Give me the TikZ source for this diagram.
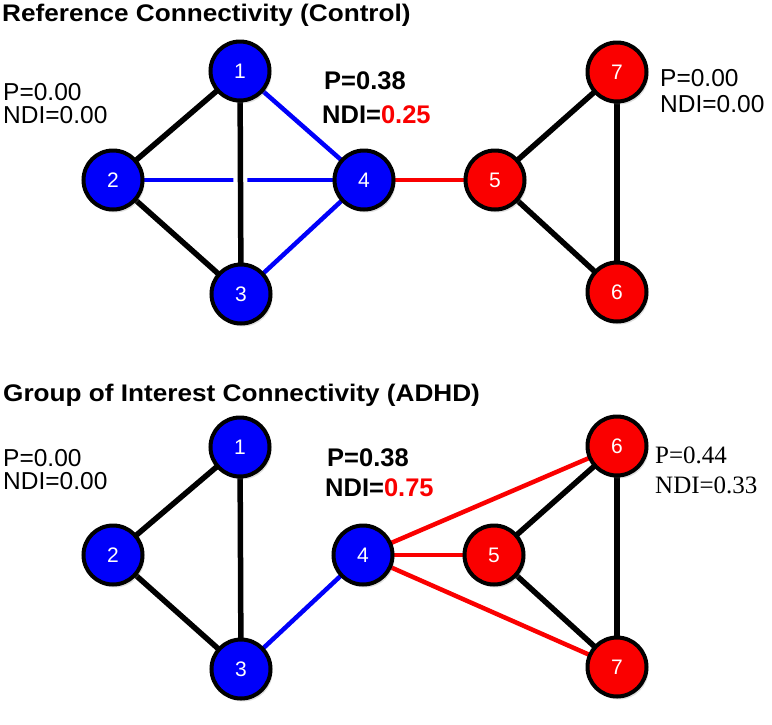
\documentclass[tikz,border=0pt]{standalone}
\usepackage{fontspec}
\setmainfont{Liberation Sans}
\newfontfamily\titlefont[FakeStretch=1.09]{Liberation Sans}
\newfontfamily\seriffont{Liberation Serif}
\usetikzlibrary{shadows}
\definecolor{nblue}{RGB}{0,0,250}
\definecolor{nred}{RGB}{250,0,0}
\begin{document}
\begin{tikzpicture}[x=1pt,y=-1pt,
  vtx/.style={circle,draw=black,line width=4pt,minimum size=59pt,inner sep=0pt,
     text=white,font=\fontsize{21}{24}\selectfont,
     drop shadow={opacity=0.25,shadow xshift=2pt,shadow yshift=-3pt}},
  bv/.style={vtx,fill=nblue},
  rv/.style={vtx,fill=nred},
  ke/.style={draw=black,line width=5.5pt},
  be/.style={draw=nblue,line width=4.5pt},
  re/.style={draw=nred,line width=4.5pt},
  ttl/.style={anchor=base west,inner sep=0pt,font=\titlefont\bfseries\fontsize{24}{26}\selectfont},
  lbl/.style={anchor=base west,inner sep=0pt,font=\fontsize{24.5}{26}\selectfont},
  blbl/.style={anchor=base west,inner sep=0pt,font=\bfseries\fontsize{25.5}{27}\selectfont},
  slbl/.style={anchor=base west,inner sep=0pt,font=\seriffont\fontsize{25}{27}\selectfont}
]
\useasboundingbox (0,0) rectangle (772,724);
% ---------- top graph ----------
\node[ttl] (t1) at (2,21) {Reference Connectivity (Control)};
\coordinate (c1) at (240,71);
\coordinate (c2) at (113,180);
\coordinate (c3) at (241,294);
\coordinate (c4) at (364,180);
\coordinate (c5) at (495,180);
\coordinate (c7) at (617,72);
\coordinate (c6) at (617,292);
\path[be] (c2) -- (c4);
\path[be] (c1) -- (c4);
\path[be] (c3) -- (c4);
\draw[ke,preaction={draw=white,line width=14pt}] (c1) -- (c3);
\path[ke] (c1) -- (c2);
\path[ke] (c2) -- (c3);
\path[re] (c4) -- (c5);
\path[ke] (c5) -- (c7);
\path[ke] (c5) -- (c6);
\path[ke] (c7) -- (c6);
\node[bv] (n1) at (c1) {1};
\node[bv] (n2) at (c2) {2};
\node[bv] (n3) at (c3) {3};
\node[bv] (n4) at (c4) {4};
\node[rv] (n5) at (c5) {5};
\node[rv] (n7) at (c7) {7};
\node[rv] (n6) at (c6) {6};
\node[lbl] (l1a) at (3,100) {P=0.00};
\node[lbl] (l1b) at (3,123) {NDI=0.00};
\node[blbl] (l2a) at (324,89) {P=0.38};
\node[blbl] (l2b) at (322,123) {NDI=\textcolor{nred}{0.25}};
\node[lbl] (l3a) at (660,86) {P=0.00};
\node[lbl] (l3b) at (660,112) {NDI=0.00};
% ---------- bottom graph ----------
\node[ttl] (t2) at (3,401) {Group of Interest Connectivity (ADHD)};
\coordinate (d1) at (240,447);
\coordinate (d2) at (113,555);
\coordinate (d3) at (241,669);
\coordinate (d4) at (363,555);
\coordinate (d5) at (494,555);
\coordinate (d6) at (617,446);
\coordinate (d7) at (617,667);
\path[ke] (d1) -- (d2);
\path[ke] (d1) -- (d3);
\path[ke] (d2) -- (d3);
\path[be] (d3) -- (d4);
\path[re] (d4) -- (d6);
\path[re] (d4) -- (d5);
\path[re] (d4) -- (d7);
\path[ke] (d6) -- (d5);
\path[ke] (d5) -- (d7);
\path[ke] (d6) -- (d7);
\node[bv] (m1) at (d1) {1};
\node[bv] (m2) at (d2) {2};
\node[bv] (m3) at (d3) {3};
\node[bv] (m4) at (d4) {4};
\node[rv] (m5) at (d5) {5};
\node[rv] (m6) at (d6) {6};
\node[rv] (m7) at (d7) {7};
\node[lbl] (k1a) at (3,466) {P=0.00};
\node[lbl] (k1b) at (3,489) {NDI=0.00};
\node[blbl] (k2a) at (327,466) {P=0.38};
\node[blbl] (k2b) at (325,496) {NDI=\textcolor{nred}{0.75}};
\node[slbl] (k3a) at (655,463) {P=0.44};
\node[slbl] (k3b) at (655,493) {NDI=0.33};
\end{tikzpicture}
\end{document}
